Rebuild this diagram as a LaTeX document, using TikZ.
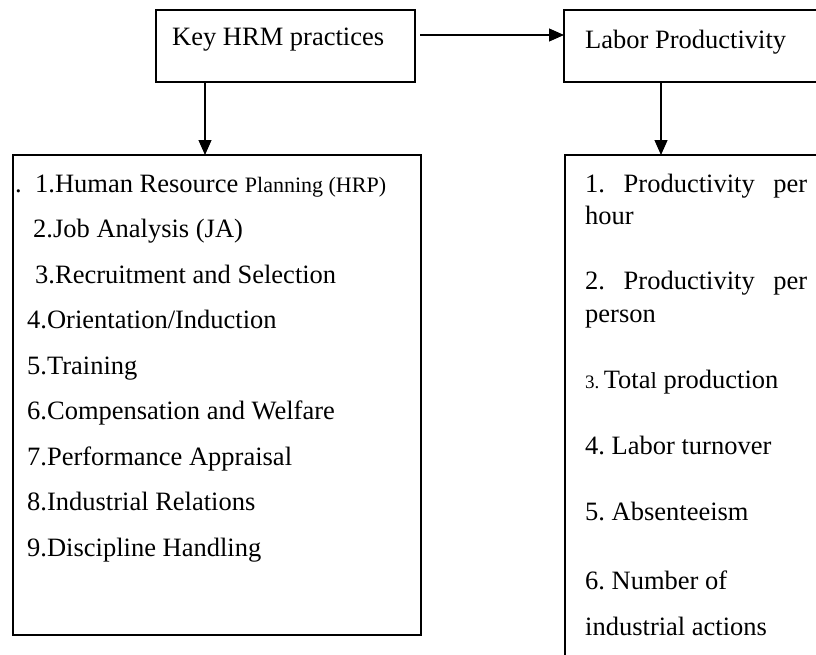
\documentclass[tikz,border=0pt]{standalone}
\usepackage{fontspec}
\setmainfont{Liberation Serif}
\usetikzlibrary{arrows.meta}
\frenchspacing
\begin{document}
\begin{tikzpicture}[x=1pt,y=-1pt,
  box/.style={draw, line width=1.5pt, rectangle, inner sep=0pt, outer sep=0pt, anchor=north west},
  txt/.style={anchor=base west, inner sep=0pt, font=\fontsize{26.5}{30}\selectfont\frenchspacing},
  arr/.style={-{Triangle[length=15pt,width=13pt]}, line width=1.2pt}]
\useasboundingbox (0,0) rectangle (816,654);
\clip (0,0) rectangle (816,654);
% boxes
\node[box, minimum width=259pt, minimum height=72pt] (hrm) at (156,10) {};
\node[box, minimum width=300pt, minimum height=72pt] (lab) at (564,10) {};
\node[box, minimum width=408pt, minimum height=480pt] (list) at (13,155) {};
\node[box, minimum width=300pt, minimum height=560pt] (meas) at (565,155) {};
% titles
\node[txt] (t0) at (172,45) {Key HRM practices};
\node[txt] (t1) at (585,48) {Labor Productivity};
% left list
\node[txt] (p0) at (15,192) {.};
\node[txt] (p1) at (35,192) {1.Human Resource {\fontsize{22}{26}\selectfont Planning (HRP)}};
\node[txt] (p2) at (33,237.5) {2.Job Analysis (JA)};
\node[txt] (p3) at (35,283) {3.Recruitment and Selection};
\node[txt] (p4) at (27,328.5) {4.Orientation/Induction};
\node[txt] (p5) at (27,374) {5.Training};
\node[txt] (p6) at (27,419.5) {6.Compensation and Welfare};
\node[txt] (p7) at (27,465) {7.Performance Appraisal};
\node[txt] (p8) at (27,510.5) {8.Industrial Relations};
\node[txt] (p9) at (27,556) {9.Discipline Handling};
% right list
\node[txt] (m1) at (585,192) {\makebox[222pt][s]{1.\hfill Productivity\hfill per}};
\node[txt] (m1b) at (585,224) {hour};
\node[txt] (m2) at (585,289) {\makebox[222pt][s]{2.\hfill Productivity\hfill per}};
\node[txt] (m2b) at (585,322) {person};
\node[txt] (m3) at (585,388) {{\fontsize{19}{22}\selectfont 3.}\,Tota{\fontsize{23}{26}\selectfont l} production};
\node[txt] (m4) at (585,454) {4. Labor turnover};
\node[txt] (m5) at (585,520) {5. Absenteeism};
\node[txt] (m6) at (585,589) {6. Number of};
\node[txt] (m6b) at (585,635) {industrial actions};
% connectors
\draw[arr] ([xshift=5pt,yshift=11pt]hrm.east) -- ([yshift=11pt]lab.west);
\draw[arr] ([xshift=49pt]hrm.south west) -- ([xshift=192pt]list.north west);
\draw[arr] ([xshift=97pt]lab.south west) -- ([xshift=96pt]meas.north west);
\end{tikzpicture}
\end{document}
